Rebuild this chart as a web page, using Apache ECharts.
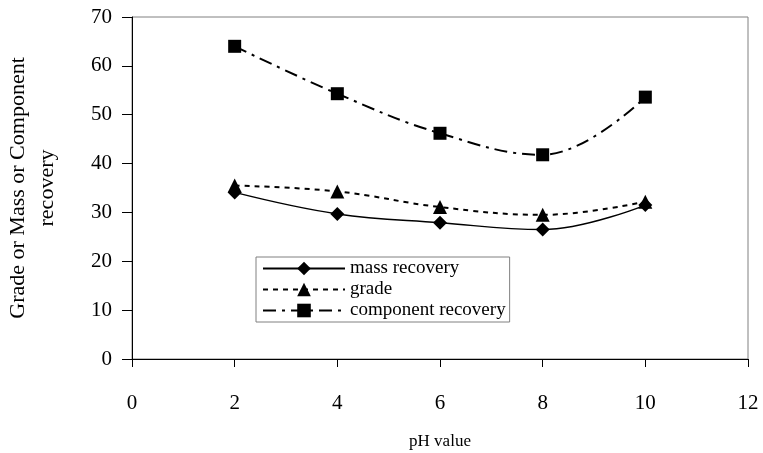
<!DOCTYPE html>
<html>
<head>
<meta charset="utf-8">
<script src="https://cdn.jsdelivr.net/npm/echarts@6/dist/echarts.min.js"></script>
<style>html,body{margin:0;padding:0;background:#fff}#c{width:763px;height:453px}</style>
</head>
<body>
<div id="c"></div>
<script>
const phValues = [2, 4, 6, 8, 10];
const massRecovery = [34.1, 29.7, 27.9, 26.5, 31.5];
const grade = [35.5, 34.3, 31.1, 29.5, 32.2];
const componentRecovery = [64.0, 54.3, 46.2, 41.8, 53.6];
const seriesNames = ['mass recovery', 'grade', 'component recovery'];

const font = 'Liberation Serif, Times New Roman, serif';
const pair = (ys) => phValues.map((x, i) => [x, ys[i]]);

const chart = echarts.init(document.getElementById('c'), null, {renderer: 'canvas'});
chart.setOption({
  animation: false,
  backgroundColor: '#fff',
  textStyle: {fontFamily: font, color: '#000'},
  grid: {left: 132, right: 15, top: 17, bottom: 94, containLabel: false, outerBoundsMode: 'none',
         show: true, borderColor: '#808080', borderWidth: 1, backgroundColor: 'transparent'},
  legend: {
    orient: 'vertical', left: 256, top: 257,
    borderColor: '#808080', borderWidth: 1, backgroundColor: '#fff',
    padding: [2, 4, 2, 6],
    itemWidth: 82, itemHeight: 17, itemGap: 2,
    textStyle: {fontFamily: font, fontSize: 19, color: '#000'},
    data: seriesNames
  },
  xAxis: {
    type: 'value', min: 0, max: 12, interval: 2,
    name: 'pH value', nameLocation: 'middle', nameGap: 74,
    nameTextStyle: {fontFamily: font, fontSize: 17, color: '#000'},
    axisLine: {show: true, lineStyle: {color: '#000', width: 1}},
    axisTick: {show: true, inside: false, length: 8, lineStyle: {color: '#000'}},
    axisLabel: {fontFamily: font, fontSize: 21, color: '#000', margin: 34},
    splitLine: {show: false}
  },
  yAxis: {
    type: 'value', min: 0, max: 70, interval: 10,
    name: 'Grade or Mass or Component\nrecovery', nameLocation: 'middle', nameGap: 70, nameRotate: 90,
    nameTextStyle: {fontFamily: font, fontSize: 22, color: '#000', lineHeight: 29},
    axisLine: {show: true, lineStyle: {color: '#000', width: 1}},
    axisTick: {show: true, inside: false, length: 10, lineStyle: {color: '#000'}},
    axisLabel: {fontFamily: font, fontSize: 21, color: '#000', margin: 20},
    splitLine: {show: false}
  },
  series: [
    {name: seriesNames[0], type: 'line', data: pair(massRecovery), smooth: 0.4,
     symbol: 'diamond', symbolSize: 14, itemStyle: {color: '#000'},
     lineStyle: {color: '#000', width: 1.5, type: 'solid'}},
    {name: seriesNames[1], type: 'line', data: pair(grade), smooth: 0.4,
     symbol: 'triangle', symbolSize: 14, itemStyle: {color: '#000'},
     lineStyle: {color: '#000', width: 2, type: [5, 5]}},
    {name: seriesNames[2], type: 'line', data: pair(componentRecovery), smooth: 0.4,
     symbol: 'rect', symbolSize: 13, itemStyle: {color: '#000'},
     lineStyle: {color: '#000', width: 2, type: [13, 6, 3, 6]}}
  ]
});
</script>
</body>
</html>
